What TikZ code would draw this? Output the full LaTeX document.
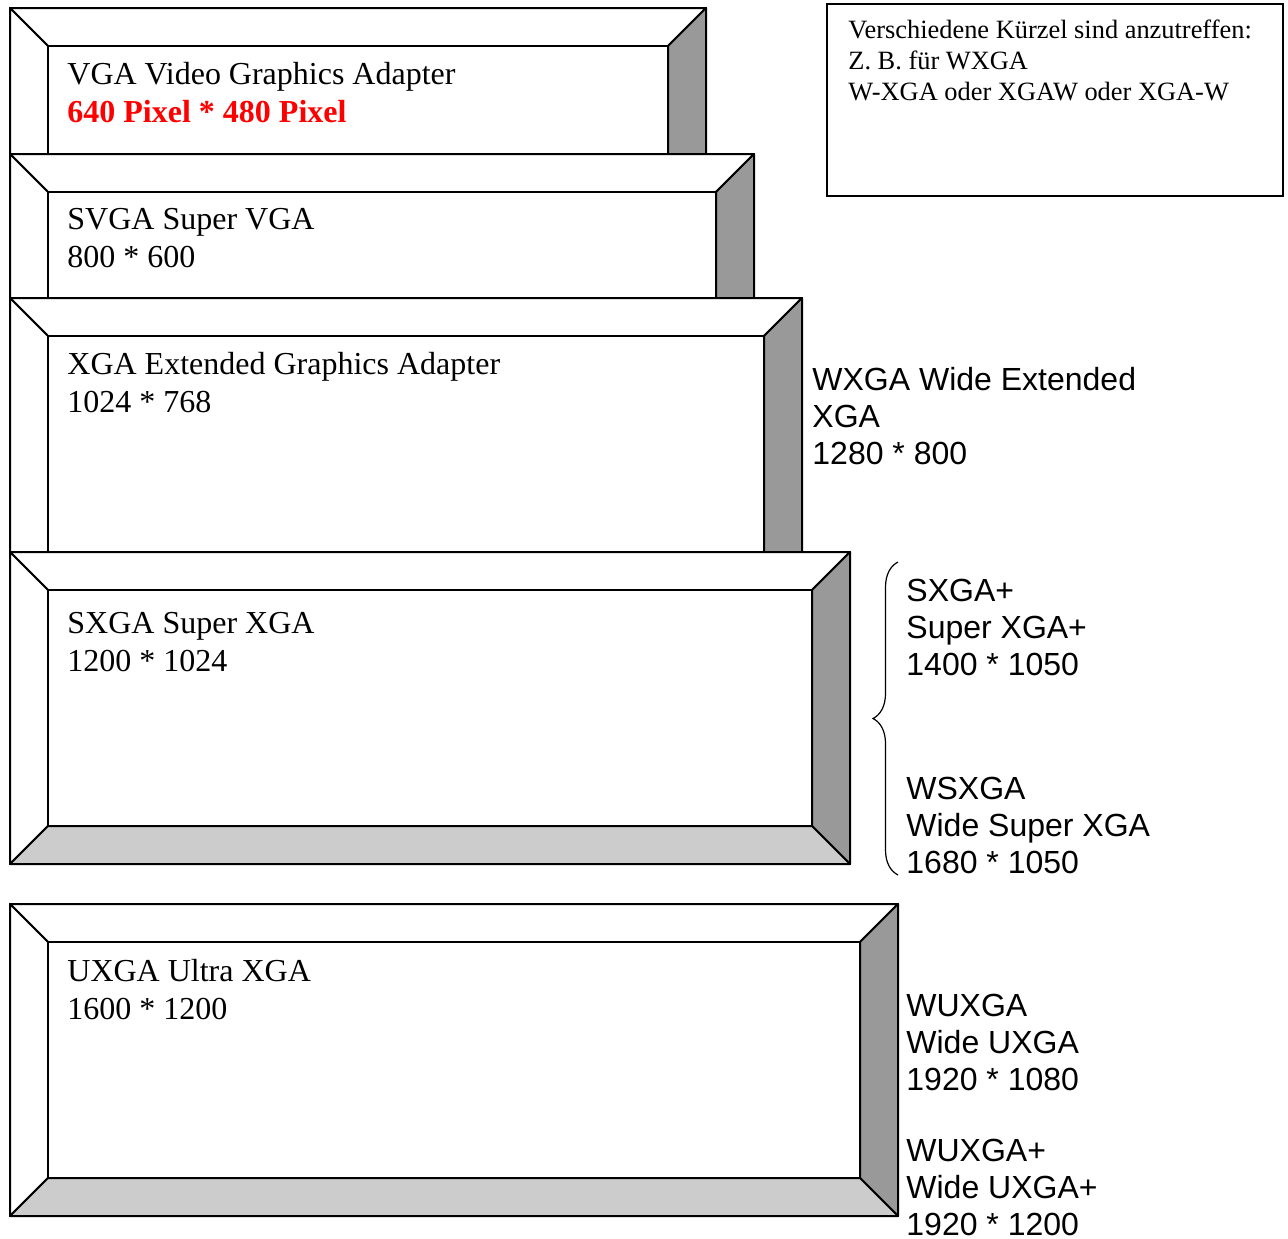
\documentclass[tikz,border=0pt]{standalone}
\usepackage{fontspec}
\setmainfont{Liberation Serif}
\setsansfont{Liberation Sans}
\usetikzlibrary{decorations.pathreplacing}
% bevel frame: left, top, right, bottom (px), bevel 38px
\newcommand{\bevelbox}[4]{%
  \draw[face] (#1,#2) rectangle (#3,#4);
  \draw[face] (#1,#2) -- (#3,#2) -- (#3-38,#2+38) -- (#1+38,#2+38) -- cycle;
  \draw[face] (#1,#2) -- (#1+38,#2+38) -- (#1+38,#4-38) -- (#1,#4) -- cycle;
  \draw[face, fill=black!40] (#3,#2) -- (#3,#4) -- (#3-38,#4-38) -- (#3-38,#2+38) -- cycle;
  \draw[face, fill=black!20] (#1,#4) -- (#3,#4) -- (#3-38,#4-38) -- (#1+38,#4-38) -- cycle;
  \draw[face] (#1+38,#2+38) rectangle (#3-38,#4-38);}

\begin{document}
\begin{tikzpicture}[x=0.5pt, y=-0.5pt,
  face/.style={draw, line width=1pt, line join=round, fill=white},
  boxtext/.style={anchor=north west, inner sep=0pt, align=left,
    font=\fontsize{16}{19}\selectfont},
  sidetext/.style={anchor=north west, inner sep=0pt, align=left,
    font=\sffamily\fontsize{16}{18.5}\selectfont}]
\useasboundingbox (0,0) rectangle (1288,1238);
% stacked frames, each one covers the lower part of the one before
\bevelbox{10}{8}{706}{300}
\bevelbox{10}{154}{754}{400}
\bevelbox{10}{298}{802}{600}
\bevelbox{10}{552}{850}{864}
\bevelbox{10}{904}{898}{1216}
\node[boxtext] (vga) at (67,62) {VGA Video Graphics Adapter\\
  \textcolor{red}{\textbf{640 Pixel * 480 Pixel}}};
\node[boxtext] (svga) at (67,208) {SVGA Super VGA\\800 * 600};
\node[boxtext] (xga) at (67,352) {XGA Extended Graphics Adapter\\1024 * 768};
\node[boxtext] (sxga) at (67,612) {SXGA Super XGA\\1200 * 1024};
\node[boxtext] (uxga) at (67,959) {UXGA Ultra XGA\\1600 * 1200};
% note at top right
\node[draw, line width=1pt, anchor=north west, inner sep=0pt,
  minimum width=228pt, minimum height=96pt] (notebox) at (826,3) {};
\node[anchor=north west, inner sep=0pt, align=left,
  font=\fontsize{13.2}{15.5}\selectfont] (note) at (848,20)
  {Verschiedene Kürzel sind anzutreffen:\\
  Z. B. für WXGA\\
  W-XGA oder XGAW oder XGA-W};
% wide formats
\node[sidetext] (wxga) at (812,367) {WXGA Wide Extended\\XGA\\1280 * 800};
\coordinate (bracetop) at (898,562);
\coordinate (bracebot) at (898,875);
\draw[line width=0.6pt, decorate, decoration={brace, amplitude=12.5pt}]
  (bracebot) -- (bracetop);
\node[sidetext] (sxgap) at (906,579) {SXGA+\\Super XGA+\\1400 * 1050};
\node[sidetext] (wsxga) at (906,777) {WSXGA\\Wide Super XGA\\1680 * 1050};
\node[sidetext] (wuxga) at (906,994) {WUXGA\\Wide UXGA\\1920 * 1080};
\node[sidetext] (wuxgap) at (906,1139) {WUXGA+\\Wide UXGA+\\1920 * 1200};
\end{tikzpicture}
\end{document}
